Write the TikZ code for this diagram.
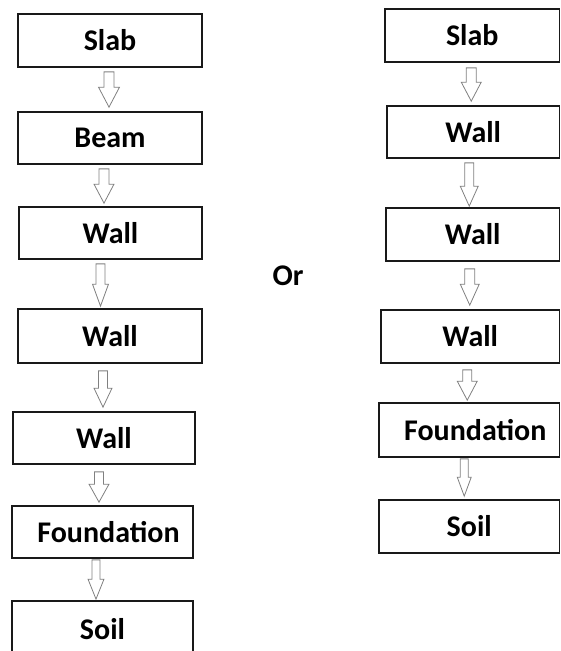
\documentclass[tikz,border=0pt]{standalone}
\usepackage{fontspec}
\setmainfont{Carlito}
\usetikzlibrary{calc}
\definecolor{arrowgray}{RGB}{128,128,128}
\definecolor{boxline}{RGB}{25,25,25}
\tikzset{
  box/.style={draw=boxline, line width=1.7pt, fill=white, rectangle, inner sep=0pt,
    font=\fontsize{30}{34}\selectfont\bfseries, text=black},
  blk/.style n args={3}{draw=arrowgray, fill=white, line width=0.8pt, line join=miter,
    to path={let \p1=(\tikztostart), \p2=(\tikztotarget) in
      (\x1-#1,\y1) -- (\x1-#1,\y2+#3) -- (\x1-#2,\y2+#3) -- (\x1,\y2)
      -- (\x1+#2,\y2+#3) -- (\x1+#1,\y2+#3) -- (\x1+#1,\y1) -- cycle}},
  orlabel/.style={font=\fontsize{30}{34}\selectfont\bfseries, inner sep=0pt}
}
\begin{document}
\begin{tikzpicture}[x=1pt,y=-1pt]
\useasboundingbox (0,0) rectangle (560,651);
\clip (0,0) rectangle (560,651);
% left column
\node[box, minimum width=184pt, minimum height=53pt] (L1) at (110,40.5) {Slab};
\node[box, minimum width=184pt, minimum height=52pt] (L2) at (110,138) {Beam};
\node[box, minimum width=183pt, minimum height=52pt] (L3) at (110.5,233) {Wall};
\node[box, minimum width=184pt, minimum height=54pt] (L4) at (110,336) {Wall};
\node[box, minimum width=182pt, minimum height=52pt] (L5) at (104,438) {Wall};
\node[box, minimum width=181pt, minimum height=52pt] (L6) at (102.5,532) {\hspace*{12pt}Foundation};
\node[box, minimum width=181pt, minimum height=56pt] (L7) at (102.5,629) {Soil};
% right column
\node[box, minimum width=174.5pt, minimum height=53pt] (R1) at (472.25,35.5) {Slab};
\node[box, minimum width=172.5pt, minimum height=52pt] (R2) at (473.25,132) {Wall};
\node[box, minimum width=173.5pt, minimum height=53pt] (R3) at (472.75,234.5) {Wall};
\node[box, minimum width=178.5pt, minimum height=53pt] (R4) at (470.25,336.5) {Wall};
\node[box, minimum width=180.5pt, minimum height=54pt] (R5) at (469.25,430) {\hspace*{12pt}Foundation};
\node[box, minimum width=180.5pt, minimum height=53pt] (R6) at (469.25,526.5) {Soil};
% Or
\node[orlabel] (or) at (288,276) {Or};
% left arrows
\draw[blk={5pt}{10.5pt}{20pt}] ($(L1.south)+(-1,4)$) to ($(L2.north)+(-1,-4)$);
\draw[blk={5pt}{10pt}{19pt}] ($(L2.south)+(-6,4)$) to ($(L3.north)+(-6,-3)$);
\draw[blk={4.5pt}{8pt}{22pt}] ($(L3.south)+(-10,4)$) to ($(L4.north)+(-10,-2)$);
\draw[blk={4.5pt}{9pt}{19pt}] ($(L4.south)+(-7,7)$) to ($(L5.north)+(-7,-4)$);
\draw[blk={4.5pt}{10pt}{18pt}] ($(L5.south)+(-5,7)$) to ($(L6.north)+(-5,-3)$);
\draw[blk={4pt}{8pt}{20pt}] ($(L6.south)+(-6.5,1)$) to ($(L7.north)+(-6.5,-1)$);
% right arrows
\draw[blk={5pt}{10pt}{19pt}] ($(R1.south)+(-1,5)$) to ($(R2.north)+(-1,-4)$);
\draw[blk={4.5pt}{9pt}{20pt}] ($(R2.south)+(-4,4)$) to ($(R3.north)+(-4,-1)$);
\draw[blk={5pt}{9.5pt}{21pt}] ($(R3.south)+(-3,7)$) to ($(R4.north)+(-3,-4)$);
\draw[blk={4.5pt}{10pt}{19pt}] ($(R4.south)+(-3,6)$) to ($(R5.north)+(-3,-2)$);
\draw[blk={4pt}{7pt}{19pt}] ($(R5.south)+(-5,1)$) to ($(R6.north)+(-5,-3)$);
\end{tikzpicture}
\end{document}
